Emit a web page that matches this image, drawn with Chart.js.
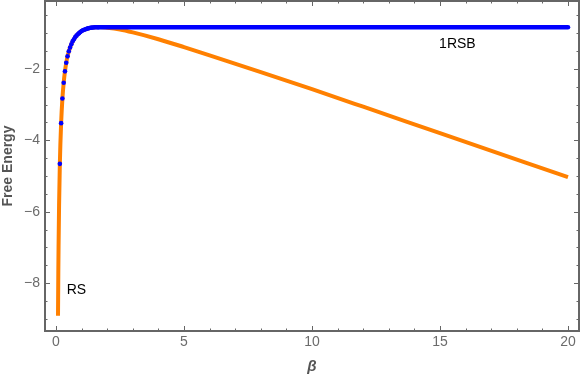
<!DOCTYPE html>
<html>
<head>
<meta charset="utf-8">
<script src="https://cdn.jsdelivr.net/npm/chart.js@4.4.0/dist/chart.umd.min.js"></script>
<style>
  html, body { margin: 0; padding: 0; background: #fff; }
  #wrap { width: 581px; height: 376px; }
</style>
</head>
<body>
<div id="wrap"><canvas id="freeEnergy" width="581" height="376"></canvas></div>
<script>
// RS free energy (orange line)
const rsBeta = [0.078, 0.09, 0.1, 0.12, 0.15, 0.2, 0.25, 0.3, 0.35, 0.4, 0.45, 0.5, 0.6, 0.7, 0.8, 0.9, 1.0, 1.2, 1.4, 1.665,
  2.0, 2.5, 3, 4, 5, 6, 8, 10, 12, 15, 20];
const rsEnergy = [-8.91, -7.72, -6.96, -5.81, -4.66, -3.52, -2.83, -2.39, -2.07, -1.83, -1.65, -1.51, -1.31, -1.17, -1.07, -1.00, -0.94, -0.88, -0.85, -0.83,
  -0.85, -0.90, -0.98, -1.17, -1.39, -1.62, -2.09, -2.57, -3.06, -3.80, -5.03];

// 1RSB free energy (blue): sampled points at small beta, then the flat part
const rsbBeta = [0.15, 0.2, 0.25, 0.3, 0.35, 0.4, 0.45, 0.5, 0.55, 0.6, 0.65, 0.7, 0.75, 0.8, 0.85, 0.9, 0.95, 1.0,
  1.05, 1.1, 1.15, 1.2, 1.25, 1.3, 1.35, 1.4, 1.45, 1.5, 1.55, 1.6, 1.65];
const rsbEnergy = [-4.66, -3.52, -2.83, -2.39, -2.07, -1.83, -1.65, -1.51, -1.40, -1.31, -1.23, -1.17, -1.11, -1.07, -1.03, -1.00, -0.97, -0.94,
  -0.92, -0.905, -0.89, -0.88, -0.867, -0.858, -0.851, -0.845, -0.841, -0.837, -0.835, -0.833, -0.833];
const rsbFlatBeta = [1.65, 20];
const rsbFlatEnergy = [-0.833, -0.833];

const xTicks = [0, 5, 10, 15, 20];
const yTicks = [-2, -4, -6, -8];

const toPoints = (xs, ys) => xs.map((x, i) => ({ x: x, y: ys[i] }));

const FRAME = '#666666';

// Mathematica-like frame with inward ticks on all four sides
const framePlugin = {
  id: 'frame',
  afterDatasetsDraw(chart) {
    const { ctx, chartArea: a, scales: { x, y } } = chart;
    ctx.save();
    ctx.strokeStyle = FRAME;
    ctx.lineWidth = 1;
    ctx.beginPath();
    for (let v = 0; v <= 20; v += 1) {
      const px = Math.round(x.getPixelForValue(v)) + 0.5;
      const len = v % 5 === 0 ? 5 : 2.5;
      ctx.moveTo(px, a.bottom); ctx.lineTo(px, a.bottom - len);
      ctx.moveTo(px, a.top); ctx.lineTo(px, a.top + len);
    }
    for (let k = 1; k <= 18; k++) {
      const v = -0.5 * k;
      const py = Math.round(y.getPixelForValue(v)) + 0.5;
      const len = k % 4 === 0 ? 5 : 2.5;
      ctx.moveTo(a.left, py); ctx.lineTo(a.left + len, py);
      ctx.moveTo(a.right, py); ctx.lineTo(a.right - len, py);
    }
    ctx.stroke();
    ctx.lineWidth = 2;
    ctx.strokeRect(a.left, a.top, a.right - a.left, a.bottom - a.top);

    // curve labels
    ctx.fillStyle = '#000';
    ctx.font = '14px "Liberation Sans", Arial, sans-serif';
    ctx.textBaseline = 'middle';
    ctx.textAlign = 'left';
    ctx.fillText('RS', x.getPixelForValue(0.42), y.getPixelForValue(-8.19));
    ctx.textAlign = 'center';
    ctx.fillText('1RSB', x.getPixelForValue(15.68), y.getPixelForValue(-1.30));
    ctx.restore();
  }
};

Chart.defaults.font.family = '"Liberation Sans", Arial, sans-serif';

new Chart(document.getElementById('freeEnergy'), {
  type: 'scatter',
  data: {
    datasets: [
      {
        label: '1RSB points',
        data: toPoints(rsbBeta, rsbEnergy),
        showLine: false,
        pointRadius: 2.3,
        pointBorderWidth: 0,
        pointBackgroundColor: 'rgb(0,0,255)',
      },
      {
        label: '1RSB',
        data: toPoints(rsbFlatBeta, rsbFlatEnergy),
        showLine: true,
        borderColor: 'rgb(0,0,255)',
        borderWidth: 4.6,
        borderCapStyle: 'round',
        pointRadius: 0,
      },
      {
        label: 'RS',
        data: toPoints(rsBeta, rsEnergy),
        showLine: true,
        borderColor: 'rgb(255,128,0)',
        borderWidth: 4,
        cubicInterpolationMode: 'monotone',
        pointRadius: 0,
      },
    ],
  },
  options: {
    responsive: false,
    animation: false,
    layout: { autoPadding: false, padding: { top: 1, right: 2, left: 0, bottom: 0 } },
    plugins: { legend: { display: false }, tooltip: { enabled: false } },
    scales: {
      x: {
        type: 'linear',
        min: -0.43,
        max: 20.43,
        afterFit(s) { s.height = 45; s.paddingLeft = 0; s.paddingRight = 0; },
        afterBuildTicks(s) { s.ticks = xTicks.map(v => ({ value: v })); },
        grid: { display: false, drawTicks: false },
        border: { display: false },
        ticks: { color: '#6b6b6b', font: { size: 14 }, padding: 3, maxRotation: 0 },
        title: {
          display: true,
          text: 'β',
          color: '#555',
          font: { size: 15, weight: 'bold', style: 'italic' },
          padding: { top: 0, bottom: 0 },
        },
      },
      y: {
        type: 'linear',
        min: -9.34,
        max: -0.1,
        afterFit(s) { s.width = 45; s.paddingTop = 0; s.paddingBottom = 0; },
        afterBuildTicks(s) { s.ticks = yTicks.map(v => ({ value: v })); },
        grid: { display: false, drawTicks: false },
        border: { display: false },
        ticks: {
          color: '#6b6b6b',
          font: { size: 14 },
          padding: 5,
          callback: v => '\u2212' + Math.abs(v),
        },
        title: {
          display: true,
          text: 'Free Energy',
          color: '#555',
          font: { size: 14, weight: 'bold' },
          padding: { top: 0, bottom: 0 },
        },
      },
    },
  },
  plugins: [framePlugin],
});
</script>
</body>
</html>
